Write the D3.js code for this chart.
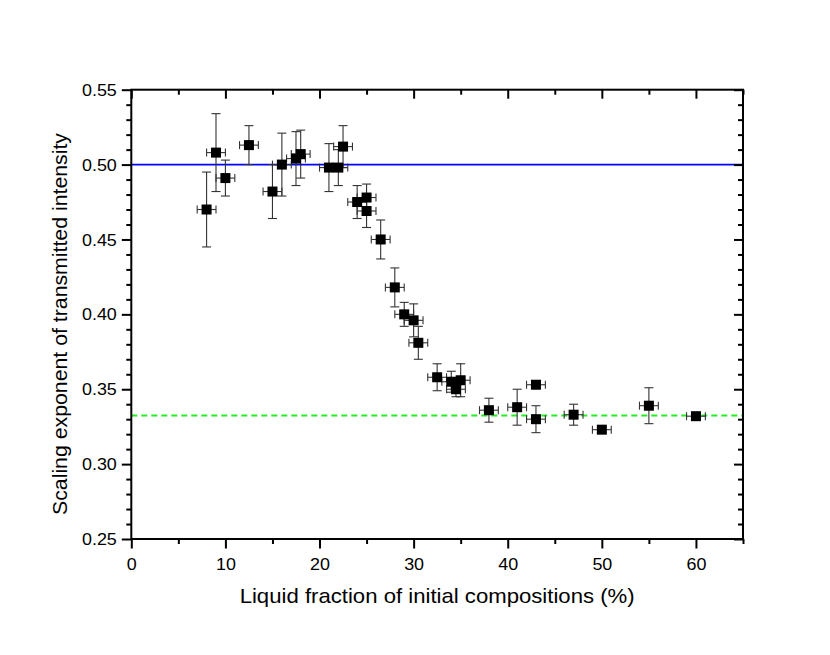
<!DOCTYPE html>
<html>
<head>
<meta charset="utf-8">
<script src="https://cdn.jsdelivr.net/npm/d3@7"></script>
<style>
  html, body { margin: 0; padding: 0; background: #fff; }
  svg { display: block; font-family: "Liberation Sans", Arial, sans-serif; }
</style>
</head>
<body>
<svg id="chart" width="830" height="655"></svg>
<script>
// ---- Data ----
const liquidFraction = [8, 9, 10, 12.5, 15, 16, 17.5, 18, 21, 22, 22.5, 24, 25, 25, 26.5, 28, 29, 30, 30.5, 32.5, 34, 34.5, 35, 38, 41, 43, 43, 47, 50, 55, 60];
const scalingExponent = [0.470, 0.508, 0.491, 0.513, 0.482, 0.500, 0.504, 0.507, 0.498, 0.498, 0.512, 0.475, 0.478, 0.469, 0.450, 0.418, 0.400, 0.396, 0.381, 0.358, 0.355, 0.350, 0.356, 0.336, 0.338, 0.353, 0.330, 0.333, 0.323, 0.339, 0.332];
const exponentError = [0.025, 0.026, 0.012, 0.013, 0.018, 0.021, 0.018, 0.016, 0.016, 0.012, 0.014, 0.011, 0.009, 0.011, 0.013, 0.013, 0.008, 0.011, 0.011, 0.009, 0.007, 0.005, 0.011, 0.008, 0.012, 0.002, 0.009, 0.007, 0.002, 0.012, 0.002];
const fractionError = [1, 1, 1, 1, 1, 1, 1, 1, 1, 1, 1, 1, 1, 1, 1, 1, 1, 1, 1, 1, 1, 1, 1, 1, 1, 1, 1, 1, 1, 1, 1];
const referenceLines = [0.5, 0.3325];        // blue solid, green dashed
const xDomain = [0, 65];
const yDomain = [0.25, 0.55];
const xMajorTicks = [0, 10, 20, 30, 40, 50, 60];
const xMinorTicks = [5, 15, 25, 35, 45, 55, 65];
const yMajorTicks = [0.25, 0.30, 0.35, 0.40, 0.45, 0.50, 0.55];
const yMinorTicks = d3.range(25, 56).map(v => v / 100).filter(v => Math.round(v * 100) % 5 !== 0);
const xTitle = "Liquid fraction of initial compositions (%)";
const yTitle = "Scaling exponent of transmitted intensity";

(function () {
const points = liquidFraction.map((x, i) => ({ x, y: scalingExponent[i], ey: exponentError[i], ex: fractionError[i] }));

// ---- Layout ----
const mLeft = 131.3, mTop = 89.7, mRight = 743, mBottom = 539;
const W = mRight - mLeft, H = mBottom - mTop;
const svg = d3.select("#chart");
const g = svg.append("g").attr("transform", `translate(${mLeft},${mTop})`);

const x = d3.scaleLinear().domain(xDomain).range([0, W]);
const y = d3.scaleLinear().domain(yDomain).range([H, 0]);

const fmtY = d3.format(".2f");
const LBL = 16, SX = 1.12;

// Reference lines
g.append("line")
  .attr("x1", x(xDomain[0])).attr("x2", x(xDomain[1]))
  .attr("y1", y(referenceLines[0])).attr("y2", y(referenceLines[0]))
  .attr("stroke", "#0000ff").attr("stroke-width", 1.6);
g.append("line")
  .attr("x1", x(xDomain[0])).attr("x2", x(xDomain[1]))
  .attr("y1", y(referenceLines[1])).attr("y2", y(referenceLines[1]))
  .attr("stroke", "#22ee22").attr("stroke-width", 2).attr("stroke-dasharray", "6,4");

// Error bars
const eb = g.append("g").attr("stroke", "#333").attr("stroke-width", 1.1).attr("fill", "none");
const capY = 4.5, capX = 4;
points.forEach(p => {
  const cx = x(p.x), cy = y(p.y);
  const y1 = y(p.y + p.ey), y2 = y(p.y - p.ey);
  const x1 = x(p.x - p.ex), x2 = x(p.x + p.ex);
  eb.append("line").attr("x1", cx).attr("x2", cx).attr("y1", y1).attr("y2", y2);
  eb.append("line").attr("x1", cx - capY).attr("x2", cx + capY).attr("y1", y1).attr("y2", y1);
  eb.append("line").attr("x1", cx - capY).attr("x2", cx + capY).attr("y1", y2).attr("y2", y2);
  eb.append("line").attr("x1", x1).attr("x2", x2).attr("y1", cy).attr("y2", cy);
  eb.append("line").attr("x1", x1).attr("x2", x1).attr("y1", cy - capX).attr("y2", cy + capX);
  eb.append("line").attr("x1", x2).attr("x2", x2).attr("y1", cy - capX).attr("y2", cy + capX);
});

// Markers
const S = 10;
g.append("g").selectAll("rect").data(points).join("rect")
  .attr("x", d => x(d.x) - S / 2).attr("y", d => y(d.y) - S / 2)
  .attr("width", S).attr("height", S).attr("fill", "#000");

// ---- Axes ----
function styleAxis(sel) {
  sel.select(".domain").remove();
  sel.selectAll("line").attr("stroke", "#000").attr("stroke-width", 2);
}
// bottom major
const xAx = g.append("g").attr("transform", `translate(0,${H})`)
  .call(d3.axisBottom(x).tickValues(xMajorTicks).tickSize(9.5).tickFormat(d3.format("d")));
styleAxis(xAx);
xAx.selectAll("text").attr("y", 31.5).attr("dy", null).attr("font-size", LBL)
  .attr("fill", "#000").attr("transform", `scale(${SX},1)`);
// bottom minor
styleAxis(g.append("g").attr("transform", `translate(0,${H})`)
  .call(d3.axisBottom(x).tickValues(xMinorTicks).tickSize(5).tickFormat("")));
// top (inward)
styleAxis(g.append("g").call(d3.axisBottom(x).tickValues(xMajorTicks).tickSize(9).tickFormat("")));
styleAxis(g.append("g").call(d3.axisBottom(x).tickValues(xMinorTicks).tickSize(5).tickFormat("")));

// left major
const yAx = g.append("g")
  .call(d3.axisLeft(y).tickValues(yMajorTicks).tickSize(9.5).tickFormat(fmtY));
styleAxis(yAx);
yAx.selectAll("text").attr("x", -14.5 / SX).attr("dy", "0.35em").attr("font-size", LBL)
  .attr("fill", "#000").attr("transform", `scale(${SX},1)`);
// left minor
styleAxis(g.append("g").call(d3.axisLeft(y).tickValues(yMinorTicks).tickSize(5).tickFormat("")));
// right (inward)
styleAxis(g.append("g").attr("transform", `translate(${W},0)`)
  .call(d3.axisLeft(y).tickValues(yMajorTicks).tickSize(9).tickFormat("")));
styleAxis(g.append("g").attr("transform", `translate(${W},0)`)
  .call(d3.axisLeft(y).tickValues(yMinorTicks).tickSize(5).tickFormat("")));

// frame
g.append("rect").attr("x", 0).attr("y", 0).attr("width", W).attr("height", H)
  .attr("fill", "none").attr("stroke", "#000").attr("stroke-width", 2);

// ---- Titles ----
svg.append("text").attr("x", (mLeft + mRight) / 2).attr("y", 603)
  .attr("text-anchor", "middle").attr("font-size", 21)
  .attr("textLength", 395).attr("lengthAdjust", "spacingAndGlyphs")
  .text(xTitle);
svg.append("text").attr("transform", `translate(66.7,324) rotate(-90)`)
  .attr("text-anchor", "middle").attr("font-size", 20)
  .attr("textLength", 382).attr("lengthAdjust", "spacingAndGlyphs")
  .text(yTitle);
})();
</script>
</body>
</html>
